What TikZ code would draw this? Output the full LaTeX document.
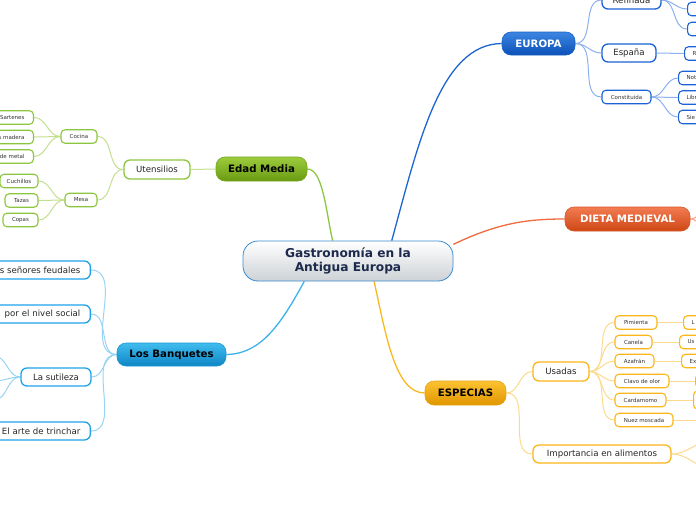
\documentclass[tikz,border=0pt]{standalone}
\usepackage{fontspec}
\setmainfont{DejaVu Sans}
\pgfdeclarelayer{bg}
\pgfsetlayers{bg,main}
\definecolor{cbord}{HTML}{3A8AD0}
\definecolor{cgray}{HTML}{CDD2D6}
\definecolor{cnavy}{HTML}{1C2A4C}
\definecolor{gtop}{HTML}{9CCC3C}
\definecolor{gbot}{HTML}{6A9A12}
\definecolor{gline}{HTML}{8CC63F}
\definecolor{glight}{HTML}{C4DE90}
\definecolor{ltop}{HTML}{40BCEE}
\definecolor{lbot}{HTML}{0E86C6}
\definecolor{lline}{HTML}{3CB2EA}
\definecolor{lborder}{HTML}{1EA2E8}
\definecolor{llight}{HTML}{98D4F2}
\definecolor{btop}{HTML}{3C86E2}
\definecolor{bbot}{HTML}{0C50B8}
\definecolor{bline}{HTML}{1C66D2}
\definecolor{bborder}{HTML}{1A62D6}
\definecolor{blight}{HTML}{8CB0F0}
\definecolor{otop}{HTML}{F27C52}
\definecolor{obot}{HTML}{CE4614}
\definecolor{oline}{HTML}{F06A40}
\definecolor{ytop}{HTML}{FCC232}
\definecolor{ybot}{HTML}{E09600}
\definecolor{yline}{HTML}{F8B820}
\definecolor{yborder}{HTML}{FBB61A}
\definecolor{ylight}{HTML}{FCDA8C}
\begin{document}
\begin{tikzpicture}[x=1pt,y=-1pt,
 central/.style={draw=cbord, line width=0.8pt, rounded corners=15pt, top color=white, bottom color=cgray, text=cnavy, font=\bfseries\fontsize{12.2}{14.5}\selectfont, align=center, minimum width=210pt, minimum height=40pt, inner sep=0pt},
 mainnode/.style={rounded corners=9pt, minimum height=24pt, inner sep=0pt, font=\bfseries\fontsize{10.2}{12}\selectfont, line width=0.6pt},
 midnode/.style={draw, fill=white, rounded corners=6pt, line width=1.3pt, minimum height=18pt, inner sep=0pt, font=\fontsize{8.6}{10.5}\selectfont, text=black!85},
 smallnode/.style={draw, fill=white, rounded corners=4pt, line width=1.1pt, minimum height=13.5pt, inner sep=0pt, font=\fontsize{5.5}{6.6}\selectfont, text=black!80},
 cutleft/.style={anchor=east, align=right, inner xsep=9pt},
 cutright/.style={anchor=west, align=left, inner xsep=8pt},
 gn/.style={draw=gbot!80!gtop, top color=gtop, bottom color=gbot, text=black},
 ln/.style={draw=lbot!70!ltop, top color=ltop, bottom color=lbot, text=black},
 bn/.style={draw=bbot!70!btop, top color=btop, bottom color=bbot, text=white},
 on/.style={draw=obot!70!otop, top color=otop, bottom color=obot, text=white},
 yn/.style={draw=ybot!70!ytop, top color=ytop, bottom color=ybot, text=black},
 mainlink/.style={line width=1.3pt},
 glink/.style={draw=glight, line width=1pt},
 llink/.style={draw=llight, line width=1pt},
 blink/.style={draw=blight, line width=1pt},
 ylink/.style={draw=ylight, line width=1pt},
 olink/.style={draw=oline!60, line width=1pt}
]
\path[use as bounding box] (0,0) rectangle (696,520);
\clip (0,0) rectangle (696,520);

% central
\node[central] (c) at (348,261) {Gastronomía en la\\Antigua Europa};

% Edad Media branch
\node[mainnode, gn, minimum width=91pt] (edad) at (261.5,169) {Edad Media};
\node[midnode, draw=gline, minimum width=66pt, minimum height=19pt] (utens) at (157,169.5) {Utensilios};
\node[smallnode, draw=gline, minimum width=36pt] (cocina) at (79,136.5) {Cocina};
\node[smallnode, draw=gline, minimum width=32pt] (mesa) at (81,200) {Mesa};
\node[smallnode, draw=gline, cutleft, text width=30pt] (sartenes) at (34,117.5) {Sartenes};
\node[smallnode, draw=gline, cutleft, text width=40pt] (madera) at (34,137) {s madera};
\node[smallnode, draw=gline, cutleft, text width=40pt] (metal) at (34,156.5) {de metal};
\node[smallnode, draw=gline, minimum width=38pt] (cuchillos) at (19,181) {Cuchillos};
\node[smallnode, draw=gline, minimum width=33pt] (tazas) at (21.5,200.5) {Tazas};
\node[smallnode, draw=gline, minimum width=35pt] (copas) at (20.5,220) {Copas};

% Los Banquetes branch
\node[mainnode, ln, minimum width=109pt, minimum height=23pt] (banq) at (171.5,354.5) {Los Banquetes};
\node[midnode, draw=lborder, cutleft, text width=100pt, inner xsep=10pt] (feudales) at (91,270) {s señores feudales};
\node[midnode, draw=lborder, cutleft, text width=100pt, inner xsep=10pt] (social) at (91,314) {por el nivel social};
\node[midnode, draw=lborder, minimum width=70pt] (sutileza) at (56,377) {La sutileza};
\node[midnode, draw=lborder, cutleft, text width=100pt, inner xsep=10pt] (trinchar) at (91,431) {El arte de trinchar};
\coordinate (sut1) at (-6,356);
\coordinate (sut2) at (-6,381);
\coordinate (sut3) at (-6,400);

% EUROPA branch
\node[mainnode, bn, minimum width=73pt, minimum height=23pt] (europa) at (538.5,43.5) {EUROPA};
\node[midnode, draw=bborder, minimum width=59pt] (refinada) at (631.5,0) {Refinada};
\node[midnode, draw=bborder, minimum width=54pt] (espana) at (629,53) {España};
\node[smallnode, draw=bborder, minimum width=49pt] (constituida) at (626.5,97) {Constituida};
\node[smallnode, draw=bborder, anchor=west, minimum width=30pt] (ref1) at (687,9) {};
\node[smallnode, draw=bborder, anchor=west, minimum width=30pt] (ref2) at (687,29) {};
\node[smallnode, draw=bborder, cutright, text width=30pt] (espR) at (684,53.5) {R};
\node[smallnode, draw=bborder, cutright, text width=30pt] (not) at (678,78) {Not};
\node[smallnode, draw=bborder, cutright, text width=30pt] (libr) at (678,97.5) {Libr};
\node[smallnode, draw=bborder, cutright, text width=30pt] (sie) at (678,117) {Sie};

% DIETA MEDIEVAL
\node[mainnode, on, minimum width=125pt] (dieta) at (627.5,219) {DIETA MEDIEVAL};
\coordinate (die1) at (712,204);
\coordinate (die2) at (712,234);

% ESPECIAS branch
\node[mainnode, yn, minimum width=81pt] (especias) at (465.5,393) {ESPECIAS};
\node[midnode, draw=yborder, minimum width=56pt, minimum height=19pt] (usadas) at (561,371.5) {Usadas};
\node[midnode, draw=yborder, minimum width=138pt] (importancia) at (602,454) {Importancia en alimentos};
\node[smallnode, draw=yborder, minimum width=42pt] (pimienta) at (636,322.5) {Pimienta};
\node[smallnode, draw=yborder, minimum width=37pt] (canela) at (633.5,342) {Canela};
\node[smallnode, draw=yborder, minimum width=39pt] (azafran) at (634.5,361) {Azafrán};
\node[smallnode, draw=yborder, minimum width=54pt] (clavo) at (642,381) {Clavo de olor};
\node[smallnode, draw=yborder, minimum width=51pt] (cardamomo) at (640.5,400) {Cardamomo};
\node[smallnode, draw=yborder, minimum width=58pt] (nuez) at (644,420) {Nuez moscada};
\node[smallnode, draw=yborder, cutright, text width=30pt] (pimL) at (683,322.5) {L};
\node[smallnode, draw=yborder, cutright, text width=30pt] (canUs) at (679,342) {Us};
\node[smallnode, draw=yborder, cutright, text width=30pt] (azEx) at (681,361) {Ex};
\node[smallnode, draw=yborder, anchor=west, minimum width=30pt] (clavoC) at (695,381) {};
\node[smallnode, draw=yborder, anchor=west, minimum width=30pt, minimum height=18pt] (cardC) at (693,400) {};
\coordinate (nuezC) at (706,420);
\coordinate (imp1) at (712,441);
\coordinate (imp2) at (712,468);

\begin{pgfonlayer}{bg}
\clip (0,0) rectangle (696,520);
% main links
\draw[mainlink, draw=gline] (c.127) .. controls (326,212) and (323,169) .. (edad.east);
\draw[mainlink, draw=bline] (c.25.5) .. controls (418,145) and (440,44) .. (europa.west);
\draw[mainlink, draw=oline] (c.9) .. controls (500,222) and (530,219) .. (dieta.west);
\draw[mainlink, draw=yline] (c.-38.7) .. controls (386,335) and (395,393) .. (especias.west);
\draw[mainlink, draw=lline] (c.205) .. controls (282,322) and (262,354) .. (banq.east);
% Edad Media children
\draw[glink] (edad.west) -- (utens.east);
\draw[glink] (utens.west) to[out=180,in=0] (cocina.east);
\draw[glink] (utens.west) to[out=180,in=0] (mesa.east);
\draw[glink] (cocina.west) to[out=180,in=0] (sartenes.east);
\draw[glink] (cocina.west) to[out=180,in=0] (madera.east);
\draw[glink] (cocina.west) to[out=180,in=0] (metal.east);
\draw[glink] (mesa.west) to[out=180,in=0] (cuchillos.east);
\draw[glink] (mesa.west) to[out=180,in=0] (tazas.east);
\draw[glink] (mesa.west) to[out=180,in=0] (copas.east);
% Banquetes children
\draw[llink] (banq.west) to[out=180,in=0] (feudales.east);
\draw[llink] (banq.west) to[out=180,in=0] (social.east);
\draw[llink] (banq.west) to[out=180,in=0] (sutileza.east);
\draw[llink] (banq.west) to[out=180,in=0] (trinchar.east);
\draw[llink] (sutileza.west) to[out=180,in=0] (sut1);
\draw[llink] (sutileza.west) to[out=180,in=0] (sut2);
\draw[llink] (sutileza.west) to[out=180,in=0] (sut3);
% Europa children
\draw[blink] (europa.east) to[out=0,in=180] (refinada.west);
\draw[blink] (europa.east) to[out=0,in=180] (espana.west);
\draw[blink] (europa.east) to[out=0,in=180] (constituida.west);
\draw[blink] (refinada.east) to[out=0,in=180] (ref1.west);
\draw[blink] (refinada.east) to[out=0,in=180] (ref2.west);
\draw[blink] (espana.east) -- (espR.west);
\draw[blink] (constituida.east) to[out=0,in=180] (not.west);
\draw[blink] (constituida.east) to[out=0,in=180] (libr.west);
\draw[blink] (constituida.east) to[out=0,in=180] (sie.west);
% Dieta children
\draw[olink] (dieta.east) to[out=0,in=180] (die1);
\draw[olink] (dieta.east) to[out=0,in=180] (die2);
% Especias children
\draw[ylink] (especias.east) to[out=0,in=180] (usadas.west);
\draw[ylink] (especias.east) to[out=0,in=180] (importancia.west);
\draw[ylink] (usadas.east) to[out=0,in=180] (pimienta.west);
\draw[ylink] (usadas.east) to[out=0,in=180] (canela.west);
\draw[ylink] (usadas.east) to[out=0,in=180] (azafran.west);
\draw[ylink] (usadas.east) to[out=0,in=180] (clavo.west);
\draw[ylink] (usadas.east) to[out=0,in=180] (cardamomo.west);
\draw[ylink] (usadas.east) to[out=0,in=180] (nuez.west);
\draw[ylink] (pimienta.east) -- (pimL.west);
\draw[ylink] (canela.east) -- (canUs.west);
\draw[ylink] (azafran.east) -- (azEx.west);
\draw[ylink] (clavo.east) -- (clavoC.west);
\draw[ylink] (cardamomo.east) -- (cardC.west);
\draw[ylink] (nuez.east) -- (nuezC);
\draw[ylink] (importancia.east) to[out=0,in=180] (imp1);
\draw[ylink] (importancia.east) to[out=0,in=180] (imp2);
\end{pgfonlayer}
\end{tikzpicture}
\end{document}
